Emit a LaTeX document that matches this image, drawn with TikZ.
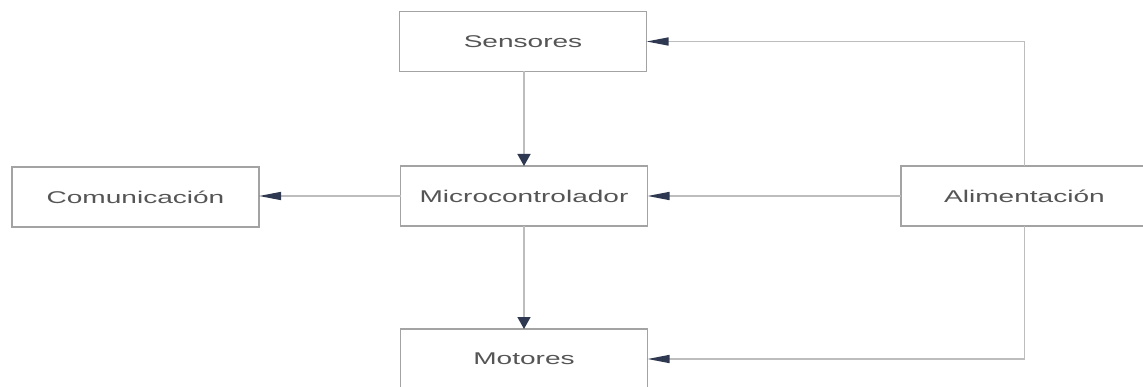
\documentclass[tikz,border=0pt]{standalone}
\usepackage{fontspec}
\usetikzlibrary{arrows.meta}
\newfontfamily\labfont[FakeStretch=1.65]{Liberation Sans}
\definecolor{boxline}{HTML}{A3A3A3}
\definecolor{conline}{HTML}{BDBDBD}
\definecolor{tipcol}{HTML}{2E3850}
\definecolor{txtcol}{HTML}{555555}
\tikzset{
  blockbox/.style={draw=boxline, line width=1.4pt, fill=white, rectangle,
    minimum width=247pt, minimum height=60pt, inner sep=0pt, outer sep=0pt,
    font=\labfont\fontsize{17}{20}\selectfont, text=txtcol},
  hcon/.style={draw=conline, line width=1.4pt,
    -{Triangle[length=22pt,width=8pt,color=tipcol]}},
  vcon/.style={draw=conline, line width=1.4pt,
    -{Triangle[length=12pt,width=13pt,color=tipcol]}}
}
\begin{document}
\begin{tikzpicture}[x=1pt,y=-1pt]
\useasboundingbox (0,0) rectangle (1143,387);
\clip (0,0) rectangle (1143,387);
\fill[white] (0,0) rectangle (1143,387);
\node[blockbox] (sens) at (523,41.5) {Sensores};
\node[blockbox] (com) at (135.5,197) {Comunicación};
\node[blockbox] (micro) at (524,196) {Microcontrolador};
\node[blockbox] (alim) at (1024.5,196) {Alimentación};
\node[blockbox] (mot) at (524,359) {Motores};
\draw[vcon] (sens.south -| micro.north) -- (micro.north);
\draw[hcon] (micro.west) -- (com.east |- micro.west);
\draw[hcon] (alim.west) -- (micro.east);
\draw[vcon] (micro.south) -- (mot.north);
\draw[hcon] (alim.north) |- (sens.east);
\draw[hcon] (alim.south) |- (mot.east);
\end{tikzpicture}
\end{document}
